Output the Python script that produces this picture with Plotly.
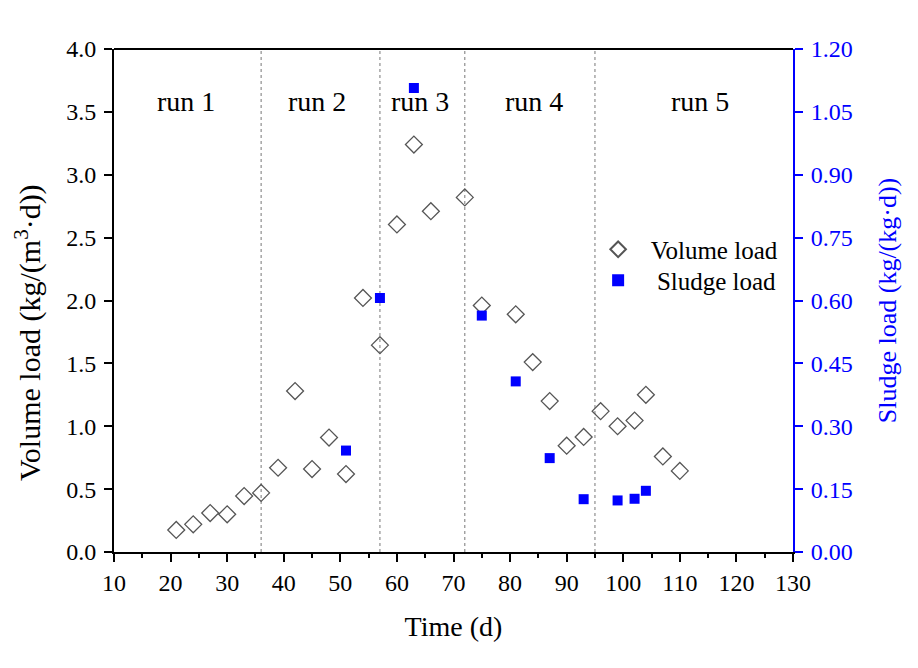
import plotly.graph_objects as go

# Volume load (left axis)
vol_day = [21, 24, 27, 30, 33, 36, 39, 42, 45, 48, 51, 54, 57, 60, 63, 66, 72, 75, 81, 84, 87, 90, 93, 96, 99, 102, 104, 107, 110]
vol_load = [0.175, 0.22, 0.31, 0.30, 0.445, 0.47, 0.67, 1.28, 0.66, 0.91, 0.62, 2.02, 1.645, 2.605, 3.24, 2.71, 2.82, 1.96, 1.89, 1.51, 1.20, 0.845, 0.915, 1.12, 1.00, 1.045, 1.25, 0.76, 0.645]

# Sludge load (right axis)
sl_day = [51, 57, 63, 75, 81, 87, 93, 99, 102, 104]
sl_load = [0.242, 0.606, 1.107, 0.564, 0.407, 0.224, 0.126, 0.123, 0.127, 0.146]

# Run boundaries and labels
run_bounds = [36, 57, 72, 95]
run_labels = ["run 1", "run 2", "run 3", "run 4", "run 5"]
run_label_x = [22.7, 45.9, 64.1, 84.2, 113.5]
run_label_y = 3.58

FONT = "Liberation Serif, Times New Roman, serif"
BLUE = "#0000FF"
NB = "\u00a0"

fig = go.Figure()

for xb in run_bounds:
    fig.add_shape(type="line", x0=xb, x1=xb, y0=0, y1=4.0, xref="x", yref="y",
                  line=dict(color="#777777", width=1, dash="dot"), layer="below")

fig.add_trace(go.Scatter(
    x=vol_day, y=vol_load, mode="markers", name=NB * 2 + "Volume load", legend="legend",
    marker=dict(symbol="diamond-open", size=13, color="#555555", line=dict(width=1.3, color="#555555")),
    yaxis="y"))

fig.add_trace(go.Scatter(
    x=sl_day, y=sl_load, mode="markers", name=NB * 3 + "Sludge load", legend="legend2",
    marker=dict(symbol="square", size=10, color=BLUE, line=dict(width=0)),
    yaxis="y2"))

for lab, lx in zip(run_labels, run_label_x):
    fig.add_annotation(x=lx, y=run_label_y, xref="x", yref="y", text=lab, showarrow=False,
                       font=dict(family=FONT, size=28, color="black"))

# left axis title (placed slightly below the plot centre as in the reference)
fig.add_annotation(x=-0.127, y=0.437, xref="paper", yref="paper", textangle=-90,
                   text="Volume load (kg/(m<sup>3</sup>·d))", showarrow=False,
                   xanchor="center", yanchor="middle",
                   font=dict(family=FONT, size=30, color="black"))

leg_common = dict(xanchor="left", yanchor="top", font=dict(family=FONT, size=25, color="black"),
                  bgcolor="rgba(0,0,0,0)", itemsizing="constant")

fig.update_layout(
    width=918, height=668,
    margin=dict(l=114, r=125, t=49, b=116),
    paper_bgcolor="white", plot_bgcolor="white",
    font=dict(family=FONT, color="black"),
    showlegend=True,
    legend=dict(x=0.713, y=0.647, **leg_common),
    legend2=dict(x=0.713, y=0.5855, **leg_common),
    xaxis=dict(range=[10, 130], dtick=10, tick0=10, ticks="outside", ticklen=8, tickwidth=2,
               tickcolor="black", showline=True, linecolor="black", linewidth=2,
               showgrid=False, zeroline=False,
               tickfont=dict(family=FONT, size=24, color="black"),
               minor=dict(dtick=5, ticks="outside", ticklen=4, tickwidth=2, tickcolor="black", showgrid=False),
               title=dict(text="Time (d)", font=dict(family=FONT, size=28, color="black"), standoff=22)),
    yaxis=dict(range=[0, 4.0], dtick=0.5, tick0=0, tickformat=".1f", ticks="outside", ticklen=8,
               tickwidth=2, tickcolor="black", showline=True, linecolor="black", linewidth=2,
               mirror=False, showgrid=False, zeroline=False, ticklabelstandoff=3,
               tickfont=dict(family=FONT, size=24, color="black")),
    yaxis2=dict(range=[0, 1.2], dtick=0.15, tick0=0, tickformat=".2f", overlaying="y", side="right",
                ticks="outside", ticklen=8, tickwidth=2, tickcolor=BLUE, showline=True,
                linecolor=BLUE, linewidth=2, showgrid=False, zeroline=False, ticklabelstandoff=3,
                tickfont=dict(family=FONT, size=24, color=BLUE),
                title=dict(text="Sludge load (kg/(kg·d))", font=dict(family=FONT, size=26, color=BLUE),
                           standoff=26)),
)

# top frame line
fig.add_shape(type="line", x0=0, x1=1, y0=1, y1=1, xref="paper", yref="paper",
              line=dict(color="black", width=2))

fig.write_html("out.html")
